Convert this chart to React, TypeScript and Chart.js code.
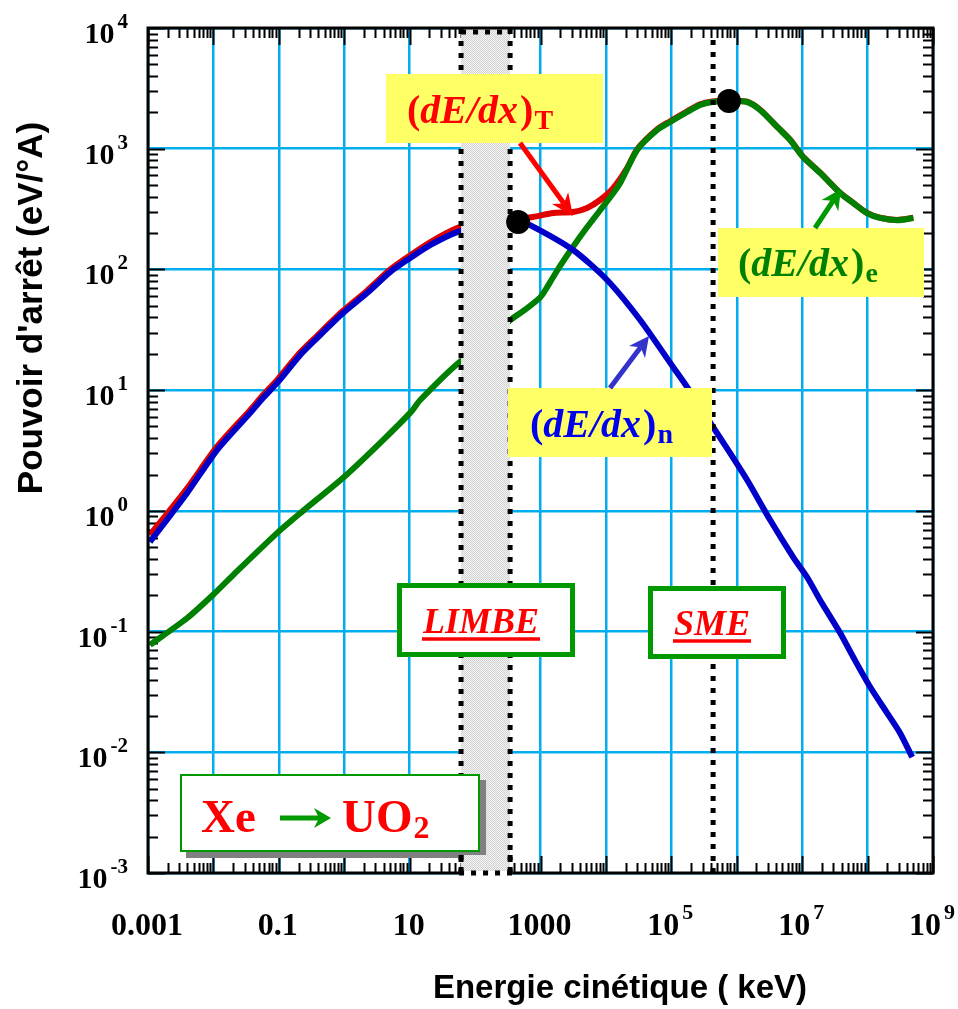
import React, { useEffect, useRef } from 'react';
import { Chart, registerables } from 'chart.js';

Chart.register(...registerables);

// ---------------- DATA (keV, eV/Å) ----------------
// nuclear stopping (dE/dx)n
const nuclearE = [0.00107, 0.00394, 0.01135, 0.0363, 0.0573, 0.0973, 0.211, 0.384, 0.959, 2.23, 5.01, 10.1, 20.5, 53.1, 158, 343, 455, 693, 3148, 10420, 33340, 106700, 174600, 435500, 792500, 1.442e6, 3.243e6, 7.278e6, 1.191e7, 1.884e7, 3.811e7, 6.026e7, 1.096e8, 1.995e8, 3.148e8, 4.808e8];
const nuclearS = [0.552, 1.40, 3.19, 6.46, 8.61, 11.7, 19.5, 27.0, 43.5, 63.7, 95.1, 124, 159, 204, 235, 245, 250, 233, 145, 81.7, 38.1, 15.5, 10.6, 4.94, 3.01, 1.80, 0.839, 0.414, 0.282, 0.182, 0.0973, 0.0615, 0.0347, 0.0211, 0.0144, 0.00912];

// electronic stopping (dE/dx)e
const electronicE = [0.00107, 0.00394, 0.01057, 0.0200, 0.0973, 0.234, 0.993, 3.92, 10.5, 14.5, 55, 158, 343, 562, 1000, 1413, 1995, 3162, 5012, 8147, 15850, 30000, 60670, 95940, 174600, 275400, 420700, 739600, 1.442e6, 2.28e6, 4.15e6, 6.56e6, 1.035e7, 1.884e7, 3.8e7, 6.03e7, 9.77e7, 1.55e8, 2.82e8, 5.01e8];
const electronicS = [0.0776, 0.129, 0.209, 0.294, 0.667, 1.0, 1.91, 3.86, 6.61, 8.28, 16.7, 25, 38, 45.7, 59, 79, 107, 155, 219, 309, 501, 977, 1429, 1663, 2014, 2301, 2438, 2483, 2438, 2094, 1514, 1180, 853, 631, 430, 355, 293, 267, 256, 267];

// total stopping (dE/dx)T
const totalE = [0.00107, 0.00394, 0.01135, 0.0363, 0.0573, 0.0973, 0.211, 0.384, 0.959, 2.23, 5.01, 10.1, 20.5, 53.1, 158, 343, 455, 771, 1560, 3148, 5164, 8147, 12880, 21090, 30000, 60670, 95940, 174600, 275400, 420700, 739600, 1.442e6, 2.28e6, 4.15e6, 6.56e6, 1.035e7, 1.884e7, 3.8e7, 6.03e7, 9.77e7, 1.55e8, 2.82e8, 5.01e8];
const totalS = [0.63, 1.53, 3.40, 6.83, 9.1, 12.4, 20.5, 28.2, 45.4, 66.6, 99.6, 130.6, 168, 220, 260, 275, 265, 272, 293, 299, 323, 376, 470, 690, 990, 1450, 1690, 2040, 2330, 2465, 2500, 2450, 2100, 1520, 1185, 856, 633, 431, 356, 294, 268, 257, 268];

// maxima markers
const peakE = [455, 7.6e5];
const peakS = [247, 2484];

// axis ticks / labels
const xDecades = [1e-3, 1e-2, 1e-1, 1, 1e1, 1e2, 1e3, 1e4, 1e5, 1e6, 1e7, 1e8, 1e9];
const yDecades = [1e-3, 1e-2, 1e-1, 1, 1e1, 1e2, 1e3, 1e4];
const xLabelValues = [1e-3, 1e-1, 1e1, 1e3, 1e5, 1e7, 1e9];
const xLabelTexts = ['0.001', '0.1', '10', '1000', '10^5', '10^7', '10^9'];
const yLabelValues = [1e-3, 1e-2, 1e-1, 1, 1e1, 1e2, 1e3, 1e4];
const yLabelTexts = ['10^-3', '10^-2', '10^-1', '10^0', '10^1', '10^2', '10^3', '10^4'];

// regions (keV)
const limbeRange = [61, 343];
const smeEnergy = 4.35e5;

const xTitle = 'Energie cinétique ( keV)';
const yTitle = "Pouvoir d'arrêt (eV/°A)";

// ---------------- STYLE ----------------
const SERIF = '"Liberation Serif", "Times New Roman", Times, serif';
const SANS = '"Liberation Sans", Arial, Helvetica, sans-serif';
const GRID_CYAN = '#00AEEF';
const BOX_GREEN = '#009900';
const C_BLUE = '#0000C8';
const C_GREEN = '#008000';
const C_RED = '#E00000';

function pts(xs: number[], ys: number[]) {
  return xs.map((x, i) => ({ x, y: ys[i] }));
}

let bandPattern: CanvasPattern | null = null;
function getPattern(ctx: CanvasRenderingContext2D) {
  if (bandPattern) return bandPattern;
  const c = document.createElement('canvas');
  c.width = 4; c.height = 4;
  const p = c.getContext('2d')!;
  p.fillStyle = '#F4F4F4';
  p.fillRect(0, 0, 4, 4);
  p.fillStyle = '#D2D2D2';
  p.fillRect(0, 0, 1, 1); p.fillRect(2, 0, 1, 1);
  p.fillRect(1, 1, 1, 1); p.fillRect(3, 1, 1, 1);
  p.fillRect(0, 2, 1, 1); p.fillRect(2, 2, 1, 1);
  p.fillRect(1, 3, 1, 1); p.fillRect(3, 3, 1, 1);
  bandPattern = ctx.createPattern(c, 'repeat');
  return bandPattern!;
}

function drawPowLabel(ctx: CanvasRenderingContext2D, text: string, x: number, baseline: number, align: 'center' | 'right', size: number) {
  const parts = text.split('^');
  const base = parts[0];
  const exp = parts[1];
  const esize = Math.round(size * 0.7);
  ctx.textAlign = 'left';
  ctx.textBaseline = 'alphabetic';
  ctx.font = `bold ${size}px ${SERIF}`;
  const wb = ctx.measureText(base).width;
  let we = 0;
  let gap = 0;
  if (exp !== undefined) {
    ctx.font = `bold ${esize}px ${SERIF}`;
    we = ctx.measureText(exp).width;
    gap = 3;
  }
  const total = wb + gap + we;
  const left = align === 'right' ? x - total : x - total / 2;
  ctx.fillStyle = '#000';
  ctx.font = `bold ${size}px ${SERIF}`;
  ctx.fillText(base, left, baseline);
  if (exp !== undefined) {
    ctx.font = `bold ${esize}px ${SERIF}`;
    ctx.fillText(exp, left + wb + gap, baseline - Math.round(size * 0.5));
  }
}

function drawArrow(ctx: CanvasRenderingContext2D, x1: number, y1: number, x2: number, y2: number, color: string, width: number, headLen: number, headHalf: number) {
  const ang = Math.atan2(y2 - y1, x2 - x1);
  const cs = Math.cos(ang), sn = Math.sin(ang);
  const bx = x2 - headLen * cs, by = y2 - headLen * sn;
  const nx = x2 - headLen * 0.7 * cs, ny = y2 - headLen * 0.7 * sn;
  const px = -sn, py = cs;
  ctx.save();
  ctx.strokeStyle = color;
  ctx.lineWidth = width;
  ctx.lineCap = 'butt';
  ctx.beginPath();
  ctx.moveTo(x1, y1);
  ctx.lineTo(nx, ny);
  ctx.stroke();
  ctx.fillStyle = color;
  ctx.beginPath();
  ctx.moveTo(x2, y2);
  ctx.lineTo(bx + px * headHalf, by + py * headHalf);
  ctx.lineTo(nx, ny);
  ctx.lineTo(bx - px * headHalf, by - py * headHalf);
  ctx.closePath();
  ctx.fill();
  ctx.restore();
}

function drawDE(ctx: CanvasRenderingContext2D, x: number, y: number, sub: string, color: string) {
  ctx.save();
  ctx.fillStyle = color;
  ctx.textAlign = 'left';
  ctx.textBaseline = 'alphabetic';
  let cx = x;
  ctx.font = `bold 40px ${SERIF}`;
  ctx.fillText('(', cx, y);
  cx += ctx.measureText('(').width;
  ctx.font = `italic bold 40px ${SERIF}`;
  ctx.fillText('dE/dx', cx, y);
  cx += ctx.measureText('dE/dx').width + 2;
  ctx.font = `bold 40px ${SERIF}`;
  ctx.fillText(')', cx, y);
  cx += ctx.measureText(')').width;
  ctx.font = `bold 28px ${SERIF}`;
  ctx.fillText(sub, cx + 1, y + 6);
  ctx.restore();
}

function drawTagBox(ctx: CanvasRenderingContext2D, x1: number, y1: number, x2: number, y2: number, text: string, cx: number, baseline: number, underlineY: number) {
  ctx.save();
  ctx.fillStyle = '#FFFFFF';
  ctx.fillRect(x1, y1, x2 - x1, y2 - y1);
  ctx.strokeStyle = BOX_GREEN;
  ctx.lineWidth = 5;
  ctx.strokeRect(x1 + 2.5, y1 + 2.5, x2 - x1 - 5, y2 - y1 - 5);
  ctx.font = `italic bold 36px ${SERIF}`;
  ctx.fillStyle = '#FF0000';
  ctx.textAlign = 'center';
  ctx.textBaseline = 'alphabetic';
  ctx.fillText(text, cx, baseline);
  const w = ctx.measureText(text).width;
  ctx.fillRect(cx - w / 2 - 1, underlineY - 1.75, w + 2, 3.5);
  ctx.restore();
}

function dottedLine(ctx: CanvasRenderingContext2D, x1: number, y1: number, x2: number, y2: number) {
  ctx.save();
  ctx.strokeStyle = '#000';
  ctx.lineWidth = 5;
  ctx.setLineDash([5, 7]);
  ctx.lineCap = 'butt';
  ctx.beginPath();
  ctx.moveTo(x1, y1);
  ctx.lineTo(x2, y2);
  ctx.stroke();
  ctx.restore();
}

const decorPlugin = {
  id: 'decor',
  beforeDatasetsDraw(chart: any) {
    const { ctx, chartArea, scales } = chart;
    const { left, right, top, bottom } = chartArea;
    const xs = scales.x, ys = scales.y;
    ctx.save();
    ctx.strokeStyle = '#000';
    ctx.lineWidth = 2;
    ctx.beginPath();
    for (let d = -3; d <= 9; d++) {
      for (let m = 1; m <= 9; m++) {
        const v = m * Math.pow(10, d);
        if (v > 1.0001e9) break;
        const px = Math.round(xs.getPixelForValue(v)) + 0.5;
        const len = m === 1 ? 17 : 10;
        ctx.moveTo(px, bottom); ctx.lineTo(px, bottom - len);
        ctx.moveTo(px, top); ctx.lineTo(px, top + len);
      }
    }
    for (let d = -3; d <= 4; d++) {
      for (let m = 1; m <= 9; m++) {
        const v = m * Math.pow(10, d);
        if (v > 1.0001e4) break;
        const py = Math.round(ys.getPixelForValue(v)) + 0.5;
        const len = m === 1 ? 17 : 10;
        ctx.moveTo(left, py); ctx.lineTo(left + len, py);
        ctx.moveTo(right, py); ctx.lineTo(right - len, py);
      }
    }
    ctx.stroke();
    ctx.restore();
  },
  afterDatasetDraw(chart: any, args: any) {
    if (args.index !== 1) return;
    const { ctx, chartArea, scales } = chart;
    const { top, bottom } = chartArea;
    const x1 = scales.x.getPixelForValue(limbeRange[0]);
    const x2 = scales.x.getPixelForValue(limbeRange[1]);
    ctx.save();
    ctx.fillStyle = getPattern(ctx);
    ctx.fillRect(x1, top, x2 - x1, bottom - top);
    ctx.restore();
    dottedLine(ctx, x1, top + 1, x1, bottom);
    dottedLine(ctx, x2, top + 1, x2, bottom);
    dottedLine(ctx, x1, top + 4, x2, top + 4);
    const xs = scales.x.getPixelForValue(smeEnergy);
    dottedLine(ctx, xs, top + 12, xs, bottom);
  },
  afterDatasetsDraw(chart: any) {
    const { ctx } = chart;
    ctx.save();
    ctx.fillStyle = '#FFFF66';
    ctx.fillRect(386, 74, 217, 69);
    ctx.fillRect(718, 228, 206, 69);
    ctx.fillRect(508, 388, 204, 69);
    ctx.restore();
    drawDE(ctx, 407, 123, 'T', '#FF0000');
    drawDE(ctx, 738, 276, 'e', '#008000');
    drawDE(ctx, 530, 437, 'n', '#0000EE');
    drawArrow(ctx, 520, 143, 573, 216, '#FF0000', 5, 22, 10);
    drawArrow(ctx, 815, 228, 841, 189, '#009900', 5, 20, 10);
    drawArrow(ctx, 610, 388, 649, 336, '#3333CC', 5, 20, 10);

    drawTagBox(ctx, 397, 583, 575, 657, 'LIMBE', 481, 633, 639);
    drawTagBox(ctx, 648, 586, 786, 659, 'SME', 712, 635, 641);

    ctx.save();
    ctx.fillStyle = '#808080';
    ctx.fillRect(186, 780, 300, 78);
    ctx.fillStyle = '#FFFFFF';
    ctx.fillRect(180, 774, 300, 78);
    ctx.strokeStyle = BOX_GREEN;
    ctx.lineWidth = 2;
    ctx.strokeRect(181, 775, 298, 76);
    ctx.fillStyle = '#FF0000';
    ctx.textAlign = 'left';
    ctx.textBaseline = 'alphabetic';
    ctx.font = `bold 47px ${SERIF}`;
    ctx.fillText('Xe', 201, 832);
    ctx.fillText('UO', 342, 832);
    const wuo = ctx.measureText('UO').width;
    ctx.font = `bold 32px ${SERIF}`;
    ctx.fillText('2', 342 + wuo + 1, 838);
    ctx.restore();
    drawArrow(ctx, 280, 818, 331, 818, '#009900', 5, 17, 10);
  },
  afterDraw(chart: any) {
    const { ctx, chartArea, scales } = chart;
    const { left, right, top, bottom } = chartArea;
    ctx.save();
    ctx.strokeStyle = '#000';
    ctx.lineWidth = 3;
    ctx.strokeRect(left, top, right - left, bottom - top);
    ctx.restore();
    const x1 = scales.x.getPixelForValue(limbeRange[0]);
    const x2 = scales.x.getPixelForValue(limbeRange[1]);
    ctx.save();
    ctx.fillStyle = getPattern(ctx);
    ctx.fillRect(x1 + 3, bottom - 18, x2 - x1 - 6, 20);
    ctx.fillStyle = '#FFFFFF';
    ctx.fillRect(x1 - 2, bottom - 2, x2 - x1 + 4, 4);
    ctx.restore();
    dottedLine(ctx, x1 - 2, bottom, x2 + 4, bottom);
    dottedLine(ctx, x1, bottom - 18, x1, bottom);
    dottedLine(ctx, x2, bottom - 18, x2, bottom);

    ctx.save();
    for (let i = 0; i < xLabelValues.length; i++) {
      const px = scales.x.getPixelForValue(xLabelValues[i]);
      drawPowLabel(ctx, xLabelTexts[i], px - 1, 935, 'center', 32);
    }
    for (let i = 0; i < yLabelValues.length; i++) {
      const py = scales.y.getPixelForValue(yLabelValues[i]);
      drawPowLabel(ctx, yLabelTexts[i], 128, py + 15, 'right', 30);
    }
    ctx.fillStyle = '#000';
    ctx.font = `bold 33px ${SANS}`;
    ctx.textAlign = 'center';
    ctx.textBaseline = 'alphabetic';
    ctx.fillText(xTitle, 620, 998);
    ctx.font = `bold 35px ${SANS}`;
    ctx.translate(42, 308);
    ctx.rotate(-Math.PI / 2);
    ctx.fillText(yTitle, 0, 0);
    ctx.restore();
  },
};

export default function App() {
  const ref = useRef<HTMLCanvasElement>(null);
  useEffect(() => {
    const canvas = ref.current;
    if (!canvas) return;
    const lineDs = (label: string, xs: number[], ys: number[], color: string, order: number) => ({
      label,
      data: pts(xs, ys),
      borderColor: color,
      backgroundColor: color,
      borderWidth: 6,
      pointRadius: 0,
      tension: 0.25,
      fill: false,
      order,
    });
    const chart = new Chart(canvas, {
      type: 'line',
      data: {
        datasets: [
          {
            label: 'maxima',
            data: pts(peakE, peakS),
            showLine: false,
            pointRadius: 12,
            pointHoverRadius: 12,
            pointBackgroundColor: '#000',
            pointBorderColor: '#000',
            pointBorderWidth: 0,
            borderColor: '#000',
            order: 0,
          } as any,
          lineDs('(dE/dx)n', nuclearE, nuclearS, C_BLUE, 1),
          lineDs('(dE/dx)e', electronicE, electronicS, C_GREEN, 2),
          lineDs('(dE/dx)T', totalE, totalS, C_RED, 3),
        ],
      },
      options: {
        responsive: false,
        animation: false,
        devicePixelRatio: 1,
        layout: { padding: { left: 148, right: 25, top: 28, bottom: 136 } },
        plugins: { legend: { display: false }, tooltip: { enabled: false } },
        events: [],
        scales: {
          x: {
            type: 'logarithmic',
            min: 1e-3,
            max: 1e9,
            afterBuildTicks: (s: any) => { s.ticks = xDecades.map((v) => ({ value: v })); },
            ticks: { display: false },
            grid: { color: GRID_CYAN, lineWidth: 2.5, drawTicks: false },
            border: { display: false },
          },
          y: {
            type: 'logarithmic',
            min: 1e-3,
            max: 1e4,
            afterBuildTicks: (s: any) => { s.ticks = yDecades.map((v) => ({ value: v })); },
            ticks: { display: false },
            grid: { color: GRID_CYAN, lineWidth: 2.5, drawTicks: false },
            border: { display: false },
          },
        },
      } as any,
      plugins: [decorPlugin as any],
    });
    return () => chart.destroy();
  }, []);
  return (
    <div style={{ position: 'absolute', left: 0, top: 0, width: 958, height: 1009, background: '#fff' }}>
      <canvas ref={ref} width={958} height={1009} style={{ display: 'block', width: 958, height: 1009 }} />
    </div>
  );
}
